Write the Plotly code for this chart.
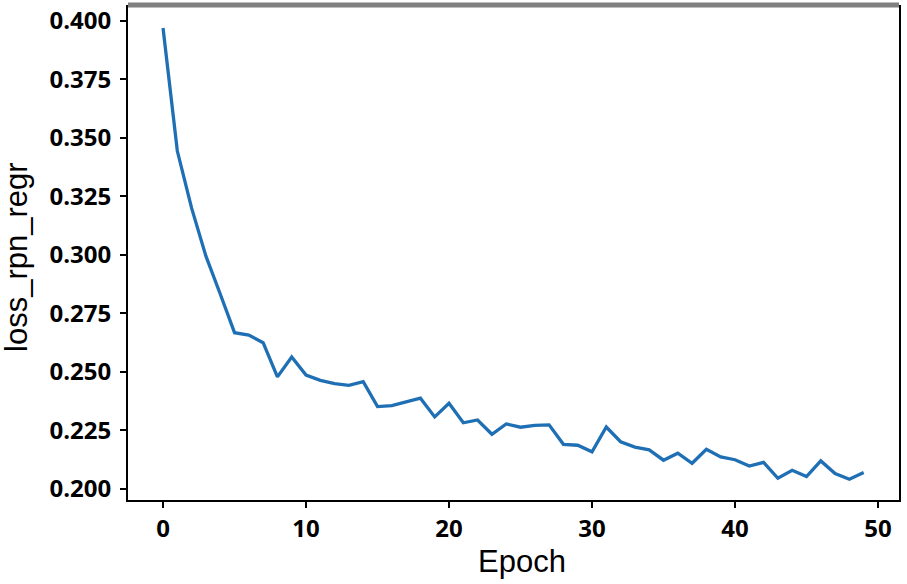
import plotly.graph_objects as go

epochs = list(range(50))
loss_rpn_regr = [
    0.397, 0.3444, 0.320, 0.2995, 0.2833, 0.2668, 0.2658, 0.2625, 0.2479, 0.2564,
    0.2487, 0.2464, 0.2450, 0.2443, 0.2459, 0.2352, 0.2356, 0.2373, 0.2388, 0.2308,
    0.2366, 0.2283, 0.2295, 0.2234, 0.2278, 0.2264, 0.2272, 0.2274, 0.2191, 0.2187,
    0.2159, 0.2265, 0.2202, 0.2179, 0.2167, 0.2123, 0.2153, 0.2110, 0.2170, 0.2137,
    0.2125, 0.2098, 0.2114, 0.2046, 0.2080, 0.2053, 0.2120, 0.2066, 0.2042, 0.2070,
]
x_ticks = [0, 10, 20, 30, 40, 50]
y_ticks = [0.200, 0.225, 0.250, 0.275, 0.300, 0.325, 0.350, 0.375, 0.400]

tick_font = dict(family="Open Sans", size=24, color="black", weight="bold")
title_font = dict(family="Liberation Sans", size=31, color="black")

fig = go.Figure(go.Scatter(
    x=epochs, y=loss_rpn_regr, mode="lines",
    line=dict(color="#1f6fb4", width=3.3), showlegend=False,
))

fig.update_layout(
    width=907, height=584,
    margin=dict(l=128, r=8, t=5, b=84),
    paper_bgcolor="white", plot_bgcolor="white",
    xaxis=dict(
        range=[-2.45, 51.47], tickvals=x_ticks, ticktext=[str(v) for v in x_ticks],
        showgrid=False, zeroline=False, showline=True, linecolor="black", linewidth=2,
        mirror=False, ticks="outside", ticklen=6, tickwidth=2, tickcolor="black",
        tickfont=tick_font, ticklabelstandoff=0, automargin=False,
    ),
    yaxis=dict(
        range=[0.1953, 0.4068], tickvals=y_ticks, ticktext=[f"{v:.3f}" for v in y_ticks],
        showgrid=False, zeroline=False, showline=True, linecolor="black", linewidth=2,
        mirror=True, ticks="outside", ticklen=6, tickwidth=2, tickcolor="black",
        tickfont=tick_font, ticklabelstandoff=4, automargin=False,
    ),
)
# axis titles placed as annotations for exact positioning
fig.add_annotation(text="Epoch", xref="paper", yref="paper", x=0.511, y=-0.125,
                   xanchor="center", yanchor="middle", showarrow=False, font=title_font)
fig.add_annotation(text="loss_rpn_regr", xref="paper", yref="paper", x=-0.144, y=0.491,
                   xanchor="center", yanchor="middle", textangle=-90, showarrow=False,
                   font=title_font)
# grey band along the top edge of the frame
fig.add_shape(type="line", xref="paper", yref="paper", x0=0, x1=1, y0=1, y1=1,
              line=dict(color="#808080", width=5))

# drop the default page margin so the figure sits at the window corner
fig.write_html("out.html", config={"displayModeBar": False},
               post_script="document.body.style.margin='0';")
